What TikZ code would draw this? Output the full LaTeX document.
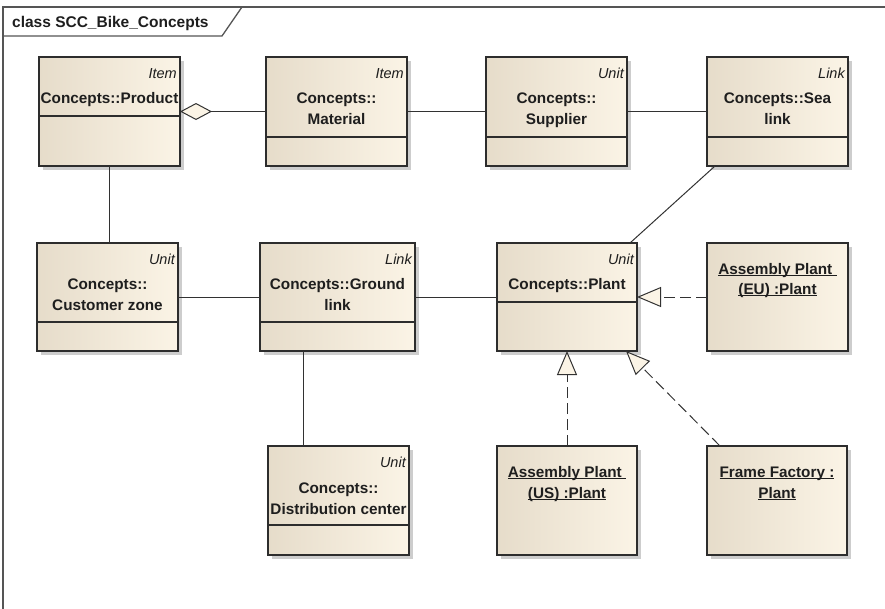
\documentclass[tikz,border=0pt]{standalone}
\usepackage{fontspec}
\setmainfont{Liberation Sans}
\usetikzlibrary{arrows.meta,shadows}

\definecolor{boxdark}{RGB}{230,220,202}
\definecolor{boxlight}{RGB}{251,244,230}
\definecolor{edge}{RGB}{45,45,45}
\definecolor{ink}{RGB}{30,30,30}
\definecolor{wire}{RGB}{50,50,50}
\definecolor{framegray}{RGB}{85,85,85}

% underline that sits just below the baseline
\newcommand\ulined[1]{\sbox0{#1}\rlap{\rule[-2.2pt]{\wd0}{0.9pt}}\usebox0}

\tikzset{
  classbox/.style={rectangle, draw=edge, line width=1.3pt, inner sep=0pt, outer sep=0pt,
    left color=boxdark, middle color=boxlight!85!boxdark, right color=boxlight,
    drop shadow={shadow xshift=4pt, shadow yshift=-4pt, opacity=0.28, fill=black!70}},
  stereo/.style={font=\fontsize{14.5}{17}\selectfont\itshape, text=ink, inner sep=0pt, anchor=base east},
  cname/.style={font=\fontsize{15.3}{19}\selectfont\bfseries, text=ink, inner sep=0pt, anchor=base},
  divider/.style={draw=edge, line width=1.2pt},
  assoc/.style={draw=wire, line width=1pt},
  realize/.style={draw=wire, line width=1pt, dash pattern=on 11pt off 5pt,
    -{Triangle[length=24pt, width=20pt, fill=boxlight, line width=1pt]}},
  aggr/.style={draw=wire, line width=1pt,
    -{Diamond[length=32pt, width=17pt, fill=boxlight, line width=1pt]}},
  framebox/.style={draw=framegray, line width=1.3pt}
}

\begin{document}
\begin{tikzpicture}[x=1pt, y=-1pt]
\useasboundingbox (0,0) rectangle (885,608);
\clip (0,0) rectangle (885,608);

% diagram frame and its title tab
\draw[framebox] (3,7) rectangle (920,640);
\draw[framebox] (3,36) -- (222,36) -- (242,7);
\node[anchor=base west, font=\fontsize{15.5}{18}\selectfont\bfseries, text=ink, inner sep=0pt]
  (title) at (12,27) {class SCC\_Bike\_Concepts};

% ---- top row ----
\node[classbox, minimum width=141pt, minimum height=109pt] (prod) at (109.5,111.5) {};
\node[stereo] (prod-st) at ([xshift=-3pt,yshift=-21pt]prod.north east) {Item};
\node[cname] (prod-n1) at ([yshift=-46pt]prod.north) {Concepts::Product};
\draw[divider] ([yshift=-59pt]prod.north west) -- ([yshift=-59pt]prod.north east);

\node[classbox, minimum width=141pt, minimum height=109pt] (mat) at (336.5,111.5) {};
\node[stereo] (mat-st) at ([xshift=-3pt,yshift=-21pt]mat.north east) {Item};
\node[cname] (mat-n1) at ([yshift=-46pt]mat.north) {Concepts::};
\node[cname] (mat-n2) at ([yshift=-67pt]mat.north) {Material};
\draw[divider] ([yshift=-80pt]mat.north west) -- ([yshift=-80pt]mat.north east);

\node[classbox, minimum width=141pt, minimum height=109pt] (sup) at (556.5,111.5) {};
\node[stereo] (sup-st) at ([xshift=-3pt,yshift=-21pt]sup.north east) {Unit};
\node[cname] (sup-n1) at ([yshift=-46pt]sup.north) {Concepts::};
\node[cname] (sup-n2) at ([yshift=-67pt]sup.north) {Supplier};
\draw[divider] ([yshift=-80pt]sup.north west) -- ([yshift=-80pt]sup.north east);

\node[classbox, minimum width=141pt, minimum height=109pt] (sea) at (777.5,111.5) {};
\node[stereo] (sea-st) at ([xshift=-3pt,yshift=-21pt]sea.north east) {Link};
\node[cname] (sea-n1) at ([yshift=-46pt]sea.north) {Concepts::Sea};
\node[cname] (sea-n2) at ([yshift=-67pt]sea.north) {link};
\draw[divider] ([yshift=-80pt]sea.north west) -- ([yshift=-80pt]sea.north east);

% ---- middle row ----
\node[classbox, minimum width=141pt, minimum height=108pt] (cust) at (107.5,297) {};
\node[stereo] (cust-st) at ([xshift=-3pt,yshift=-21pt]cust.north east) {Unit};
\node[cname] (cust-n1) at ([yshift=-46pt]cust.north) {Concepts::};
\node[cname] (cust-n2) at ([yshift=-67pt]cust.north) {Customer zone};
\draw[divider] ([yshift=-79pt]cust.north west) -- ([yshift=-79pt]cust.north east);

\node[classbox, minimum width=155pt, minimum height=108pt] (gl) at (337.5,297) {};
\node[stereo] (gl-st) at ([xshift=-3pt,yshift=-21pt]gl.north east) {Link};
\node[cname] (gl-n1) at ([yshift=-46pt]gl.north) {Concepts::Ground};
\node[cname] (gl-n2) at ([yshift=-67pt]gl.north) {link};
\draw[divider] ([yshift=-79pt]gl.north west) -- ([yshift=-79pt]gl.north east);

\node[classbox, minimum width=140pt, minimum height=108pt] (plant) at (567,297) {};
\node[stereo] (plant-st) at ([xshift=-3pt,yshift=-21pt]plant.north east) {Unit};
\node[cname] (plant-n1) at ([yshift=-46pt]plant.north) {Concepts::Plant};
\draw[divider] ([yshift=-59pt]plant.north west) -- ([yshift=-59pt]plant.north east);

\node[classbox, minimum width=141pt, minimum height=108pt] (eu) at (777.5,297) {};
\node[cname] (eu-n1) at ([yshift=-31pt]eu.north) {\ulined{Assembly Plant\ }};
\node[cname] (eu-n2) at ([yshift=-51pt]eu.north) {\ulined{(EU) :Plant}};

% ---- bottom row ----
\node[classbox, minimum width=141pt, minimum height=109pt] (dc) at (338.5,500.5) {};
\node[stereo] (dc-st) at ([xshift=-3pt,yshift=-21pt]dc.north east) {Unit};
\node[cname] (dc-n1) at ([yshift=-47pt]dc.north) {Concepts::};
\node[cname] (dc-n2) at ([yshift=-68pt]dc.north) {Distribution center};
\draw[divider] ([yshift=-79pt]dc.north west) -- ([yshift=-79pt]dc.north east);

\node[classbox, minimum width=140pt, minimum height=109pt] (us) at (567,500.5) {};
\node[cname] (us-n1) at ([yshift=-31pt]us.north) {\ulined{Assembly Plant\ }};
\node[cname] (us-n2) at ([yshift=-52pt]us.north) {\ulined{(US) :Plant}};

\node[classbox, minimum width=140pt, minimum height=109pt] (ff) at (777,500.5) {};
\node[cname] (ff-n1) at ([yshift=-31pt]ff.north) {\ulined{Frame Factory :}};
\node[cname] (ff-n2) at ([yshift=-52pt]ff.north) {\ulined{Plant}};

% ---- associations ----
\draw[aggr] (mat.west) -- (prod.east);
\draw[assoc] (mat.east) -- (sup.west);
\draw[assoc] (sup.east) -- (sea.west);
\draw[assoc] ([xshift=-0.5pt]prod.south) -- ([xshift=1.5pt]cust.north);
\draw[assoc] ([xshift=8pt]sea.south west) -- ([xshift=-7pt]plant.north east);
\draw[assoc] (cust.east) -- (gl.west);
\draw[assoc] (gl.east) -- (plant.west);
\draw[assoc] ([xshift=-34.5pt]gl.south) -- ([xshift=-35.5pt]dc.north);

% ---- realizations ----
\draw[realize] (eu.west) -- (plant.east);
\draw[realize] (us.north) -- (plant.south);
\draw[realize] ([xshift=13pt]ff.north west) -- ([xshift=-11pt]plant.south east);
\end{tikzpicture}
\end{document}
